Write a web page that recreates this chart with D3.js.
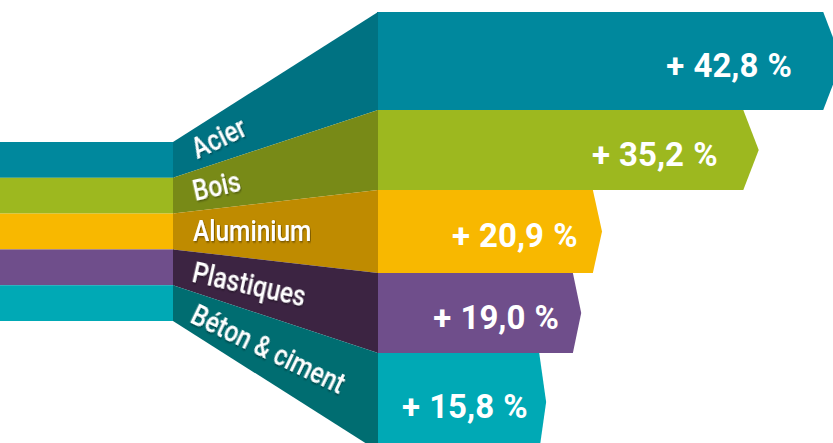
<!DOCTYPE html>
<html>
<head>
<meta charset="utf-8">
<script src="https://cdn.jsdelivr.net/npm/d3@7"></script>
<style>
  html, body { margin: 0; padding: 0; background: #fff; overflow: hidden; }
</style>
</head>
<body>
<div id="chart"></div>
<script>
// données
const categories = ['Acier', 'Bois', 'Aluminium', 'Plastiques', 'Béton & ciment']
const growth = [42.8, 35.2, 20.9, 19.0, 15.8]
const barColors = ['#00889d', '#9db81f', '#f8b800', '#6f4e8b', '#00a9b5']
const panelColors = ['#007282', '#788a17', '#bf8b00', '#3c2442', '#006d71']

// mise en page
const width = 833
const height = 443
const stubRight = 173
const panelRight = 378
const barEdges = [12, 110, 190, 273, 353, 451]

const frLocale = d3.formatLocale({ decimal: ',', thousands: ' ', grouping: [3], currency: ['', ' €'] })
const fmt = frLocale.format('.1f')

const svg = d3.select('#chart')
  .append('svg')
  .attr('width', width)
  .attr('height', height)

// ombre légère sous les libellés
const defs = svg.append('defs')
defs.append('filter')
  .attr('id', 'shadow')
  .attr('x', '-10%').attr('y', '-30%').attr('width', '120%').attr('height', '160%')
  .append('feDropShadow')
  .attr('dx', 1).attr('dy', 1.2).attr('stdDeviation', 0.8)
  .attr('flood-color', '#000').attr('flood-opacity', 0.45)

const yStub = d3.scaleBand().domain(categories).range([142, 321])
const x = d3.scaleLinear().domain([0, 42.8]).range([373, 842])
const xLabel = d3.scaleLinear().domain([0, 42.8]).range([373, 792])

const rows = categories.map((name, i) => ({
  name,
  value: growth[i],
  bar: barColors[i],
  panel: panelColors[i],
  top: barEdges[i],
  bottom: barEdges[i + 1]
}))

// bandes de gauche
svg.append('g')
  .selectAll('rect')
  .data(rows)
  .join('rect')
  .attr('x', 0)
  .attr('y', d => yStub(d.name))
  .attr('width', stubRight + 1)
  .attr('height', yStub.bandwidth())
  .attr('fill', d => d.bar)

// barres en flèche
svg.append('g')
  .selectAll('path')
  .data(rows)
  .join('path')
  .attr('fill', d => d.bar)
  .attr('d', d => {
    const tip = x(d.value)
    const body = tip - 0.04 * (tip - x(0))
    const mid = (d.top + d.bottom) / 2
    return `M${panelRight - 1},${d.top}L${body},${d.top}L${tip},${mid}L${body},${d.bottom}L${panelRight - 1},${d.bottom}Z`
  })

// panneau en perspective
svg.append('g')
  .selectAll('path')
  .data(rows)
  .join('path')
  .attr('fill', d => d.panel)
  .attr('d', d => {
    const t = yStub(d.name)
    const b = t + yStub.bandwidth()
    return `M${stubRight},${t}L${panelRight},${d.top}L${panelRight},${d.bottom}L${stubRight},${b}Z`
  })

// libellés des matériaux
const labelX = 193
svg.append('g')
  .selectAll('text')
  .data(rows)
  .join('text')
  .attr('transform', d => {
    const midL = yStub(d.name) + yStub.bandwidth() / 2
    const midR = (d.top + d.bottom) / 2
    const slope = (midR - midL) / (panelRight - stubRight)
    const y = midL + slope * (labelX - stubRight)
    const angle = Math.atan(slope) * 180 / Math.PI
    return `translate(${labelX},${y}) rotate(${angle}) scale(0.83,1)`
  })
  .attr('dominant-baseline', 'central')
  .attr('fill', '#fff')
  .attr('font-family', 'Roboto, sans-serif')
  .attr('font-weight', 500)
  .attr('font-size', '29.5px')
  .attr('filter', 'url(#shadow)')
  .text(d => d.name)

// valeurs
svg.append('g')
  .selectAll('text')
  .data(rows)
  .join('text')
  .attr('x', d => xLabel(d.value))
  .attr('y', d => (d.top + d.bottom) / 2 + 4)
  .attr('text-anchor', 'end')
  .attr('dominant-baseline', 'central')
  .attr('fill', '#fff')
  .attr('font-family', 'Roboto, sans-serif')
  .attr('font-weight', 'bold')
  .attr('font-size', '33px')
  .attr('word-spacing', '1px')
  .text(d => `+ ${fmt(d.value)} %`)
</script>
</body>
</html>
